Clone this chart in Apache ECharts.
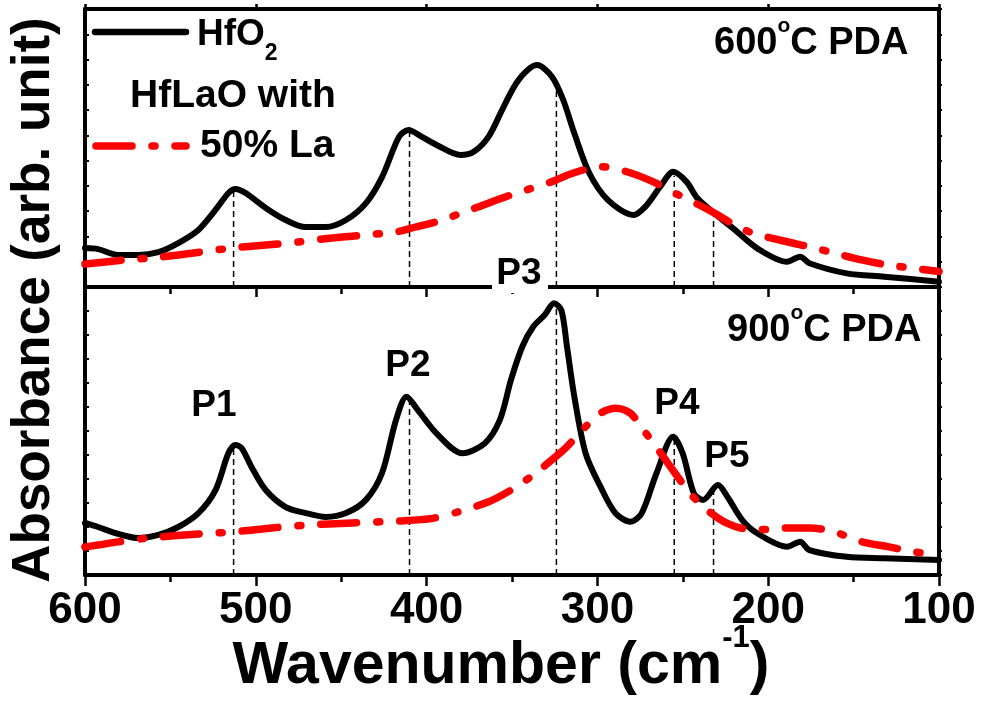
<!DOCTYPE html>
<html>
<head>
<meta charset="utf-8">
<script src="https://cdn.jsdelivr.net/npm/echarts@6/dist/echarts.min.js"></script>
<style>
html,body{margin:0;padding:0;background:#fff;}
#chart{width:981px;height:705px;}
</style>
</head>
<body>
<div id="chart"></div>
<script>
// ---------------- DATA ----------------
const xTickValues = [600, 500, 400, 300, 200, 100];

// 600 C PDA, HfO2 (black solid)
const hfo2_600 = [[600,15.4],[592.4,15.0],[580.6,12.7],[568.9,12.7],[557.1,13.8],[545.4,17.4],[533.6,22.6],[523.6,30.5],[516.0,37.2],[511.9,38.8],[506.0,37.2],[494.2,31.3],[482.5,26.5],[470.7,23.7],[459.0,23.7],[447.2,26.5],[435.5,33.2],[426.1,43.5],[416.1,59.5],[410.6,62.1],[403.0,59.5],[394.2,56.2],[380.1,52.2],[372.4,53.5],[363.7,59.5],[354.9,71.3],[346.2,81.9],[335.3,87.8],[326.6,83.2],[320.0,74.0],[313.5,60.8],[304.7,45.0],[293.8,34.4],[278.9,28.5],[271.9,31.8],[263.2,39.7],[255.6,45.6],[247.9,41.7],[241.4,35.1],[232.6,29.8],[219.5,22.6],[206.4,15.3],[189.0,10.0],[181.3,12.0],[175.9,9.4],[154.0,5.4],[132.1,4.1],[100,2.1]];

// 600 C PDA, HfLaO with 50% La (red dash-dot)
const hflao_600 = [[600,9.1],[594.1,9.5],[576.5,10.7],[561.2,11.5],[545.4,12.7],[514.2,15.4],[494.2,16.6],[474.9,17.8],[455.5,19.4],[435.5,20.6],[417.9,21.8],[409.5,23.2],[394.2,25.8],[374.6,30.5],[350.6,36.4],[326.6,41.7],[314.5,45.0],[298.2,47.6],[282.8,45.6],[267.6,41.7],[254.5,37.1],[234.8,30.5],[219.5,24.5],[208.6,21.2],[189.0,17.9],[175.9,15.9],[160.6,13.3],[145.2,10.7],[130.0,8.7],[114.7,7.4],[100,6.1]];

// 900 C PDA, HfO2 (black solid)
const hfo2_900 = [[600,21.7],[592.4,20.0],[580.6,17.1],[568.9,15.4],[557.1,16.7],[545.4,20.0],[533.6,25.8],[523.6,35.4],[516.0,50.8],[511.9,54.2],[508.3,52.9],[502.5,45.0],[494.2,35.4],[482.5,28.3],[470.7,25.8],[459.0,24.2],[447.2,25.8],[435.5,31.3],[426.1,42.5],[417.9,64.6],[411.7,74.3],[405.2,68.8],[394.2,59.0],[379.0,50.7],[365.9,54.9],[357.1,64.6],[350.6,81.3],[344.0,95.1],[337.5,103.5],[330.9,108.3],[325.4,113.2],[321.1,110.4],[317.8,95.1],[313.5,74.3],[306.9,50.7],[298.2,36.8],[289.4,25.7],[280.7,22.2],[274.1,25.7],[265.4,42.4],[255.6,57.6],[250.1,50.7],[243.5,34.0],[238.1,31.3],[229.4,37.5],[223.9,32.6],[215.2,22.9],[206.4,17.4],[189.0,11.8],[181.3,13.9],[175.9,10.4],[154.0,7.6],[132.1,7.0],[100,6.3]];

// 900 C PDA, HfLaO with 50% La (red dash-dot)
const hflao_900 = [[600,11.7],[592.4,12.5],[580.6,13.8],[563.0,15.4],[533.6,17.1],[514.2,17.9],[490.7,19.6],[470.7,20.8],[443.7,21.7],[416.1,22.5],[396.4,23.6],[381.1,26.4],[363.7,30.5],[350.6,35.4],[337.5,41.7],[324.4,49.3],[317.8,53.5],[306.9,61.8],[298.2,67.4],[289.4,69.5],[280.7,67.4],[273.0,60.4],[264.3,52.1],[254.5,42.4],[245.7,34.0],[237.0,27.8],[223.9,21.5],[210.8,19.0],[197.7,19.0],[189.0,19.6],[175.9,19.6],[162.7,18.3],[145.3,13.9],[130.0,11.8],[114.7,9.7],[100,8.3]];

// Peak markers (dashed drop lines)
const peakNames = ['P1', 'P2', 'P3', 'P4', 'P5'];
const peakPos = [513, 410, 324, 255, 232];
const dropTop600 = [38.5, 62, 78, 44, 29];
const dropTop900 = [54, 73, 112, 57, 36];

// ---------------- CHART ----------------
const FONT = '"Liberation Sans", Arial, sans-serif';
const BLACK = '#000000';
const RED = '#ff0000';
const chart = echarts.init(document.getElementById('chart'), null, {renderer: 'canvas'});

function xAxisDef(grid, pos, tickLen, minorLen, showLabel) {
  return {
    type: 'value', gridIndex: grid, position: pos, inverse: true,
    min: xTickValues[xTickValues.length - 1], max: xTickValues[0], interval: 100,
    axisLine: {show: true, onZero: false, lineStyle: {color: BLACK, width: 4}},
    axisTick: {show: tickLen > 0, inside: false, length: tickLen, lineStyle: {color: BLACK, width: 2.5}},
    minorTick: {show: minorLen > 0, splitNumber: 2, length: minorLen, lineStyle: {color: BLACK, width: 2.5}},
    splitLine: {show: false}, minorSplitLine: {show: false},
    axisLabel: {show: showLabel, color: BLACK, fontSize: 44, fontWeight: 'bold', fontFamily: FONT, margin: 14}
  };
}
function yAxisDef(grid, pos, max, inside, len) {
  return {
    type: 'value', gridIndex: grid, position: pos, min: 0, max: max, interval: 10,
    axisLine: {show: true, onZero: false, lineStyle: {color: BLACK, width: 4}},
    axisTick: {show: true, inside: inside, length: len, lineStyle: {color: BLACK, width: 2}},
    splitLine: {show: false},
    axisLabel: {show: false}
  };
}

const series = [];
function curve(data, xi, yi, color, width, dash, z) {
  return {
    type: 'line', xAxisIndex: xi, yAxisIndex: yi, data: data,
    showSymbol: false, symbol: 'none', smooth: 0.3, silent: true, z: z,
    lineStyle: {color: color, width: width, type: dash || 'solid', cap: 'round', join: 'round'}
  };
}
peakPos.forEach((p, i) => {
  series.push({type: 'line', xAxisIndex: 0, yAxisIndex: 0, data: [[p, 0], [p, dropTop600[i]]],
    showSymbol: false, symbol: 'none', silent: true, z: 1,
    lineStyle: {color: BLACK, width: 1.5, type: [6, 4]}});
  series.push({type: 'line', xAxisIndex: 2, yAxisIndex: 2, data: [[p, 0], [p, dropTop900[i]]],
    showSymbol: false, symbol: 'none', silent: true, z: 1,
    lineStyle: {color: BLACK, width: 1.5, type: [6, 4]}});
});
series.push(curve(hfo2_600, 0, 0, BLACK, 6, 'solid', 3));
series.push(curve(hflao_600, 0, 0, RED, 7.5, [36, 20, 3, 20], 4));
series.push(curve(hfo2_900, 2, 2, BLACK, 6, 'solid', 3));
series.push(curve(hflao_900, 2, 2, RED, 7.5, [36, 20, 3, 20], 4));

function txt(x, y, text, size, align, extra) {
  return Object.assign({
    type: 'text', x: x, y: y, z: 100, silent: true,
    style: {text: text, font: 'bold ' + size + 'px ' + FONT, fill: BLACK, align: align || 'center', verticalAlign: 'middle'}
  }, extra || {});
}
function richTxt(x, y, text, rich, align) {
  return {type: 'text', x: x, y: y, z: 100, silent: true,
    style: {text: text, rich: rich, fill: BLACK, align: align || 'left', verticalAlign: 'middle', font: 'bold 38px ' + FONT}};
}
const degRich = {
  a: {font: 'bold 38px ' + FONT, fill: BLACK, lineHeight: 56},
  s: {font: 'bold 21px ' + FONT, fill: BLACK, verticalAlign: 'top'}
};

const graphic = [
  // y axis title
  {type: 'text', x: 34, y: 300, rotation: Math.PI / 2, z: 100, silent: true,
   style: {text: 'Absorbance (arb. unit)', font: 'bold 53px ' + FONT, fill: BLACK, align: 'center', verticalAlign: 'middle'}},
  // x axis title
  richTxt(501, 667, '{a|Wavenumber (cm}{s|-1}{a|)}', {
    a: {font: 'bold 59px ' + FONT, fill: BLACK, lineHeight: 88},
    s: {font: 'bold 31px ' + FONT, fill: BLACK, verticalAlign: 'top'}
  }, 'center'),
  // legend
  {type: 'line', z: 100, silent: true, shape: {x1: 95, y1: 32, x2: 186, y2: 32},
   style: {stroke: BLACK, lineWidth: 6.5, lineCap: 'round'}},
  richTxt(197, 34.5, '{a|HfO}{s|2}', {
    a: {font: 'bold 37px ' + FONT, fill: BLACK, lineHeight: 62},
    s: {font: 'bold 23px ' + FONT, fill: BLACK, verticalAlign: 'bottom'}
  }),
  txt(130, 96, 'HfLaO with', 39, 'left'),
  {type: 'line', z: 100, silent: true, shape: {x1: 96, y1: 146, x2: 186, y2: 146},
   style: {stroke: RED, lineWidth: 7.5, lineCap: 'round', lineDash: [36, 20, 3, 20]}},
  txt(200, 146, '50% La', 39, 'left'),
  // panel titles
  richTxt(714, 44, '{a|600}{s|o}{a|C PDA}', degRich),
  richTxt(727, 331, '{a|900}{s|o}{a|C PDA}', degRich),
  // peak labels
  txt(214, 406, peakNames[0], 37),
  txt(408, 366, peakNames[1], 37),
  {type: 'rect', z: 99, silent: true, shape: {x: 492, y: 281, width: 56, height: 12}, style: {fill: '#ffffff'}},
  txt(519, 273.5, peakNames[2], 37),
  txt(677, 404, peakNames[3], 37),
  txt(727, 457, peakNames[4], 37)
];

chart.setOption({
  animation: false,
  backgroundColor: '#ffffff',
  grid: [
    {left: 85, right: 42, top: 9, height: 278, outerBoundsMode: 'none', containLabel: false},
    {left: 85, right: 42, top: 287, height: 288, outerBoundsMode: 'none', containLabel: false}
  ],
  xAxis: [
    xAxisDef(0, 'bottom', 10, 7, false),
    xAxisDef(0, 'top', 5, 0, false),
    xAxisDef(1, 'bottom', 11, 7, true),
    xAxisDef(1, 'top', 0, 0, false)
  ],
  yAxis: [
    yAxisDef(0, 'left', 110, true, 4),
    yAxisDef(0, 'right', 110, false, 3),
    yAxisDef(1, 'left', 120, true, 4),
    yAxisDef(1, 'right', 120, false, 3)
  ],
  series: series,
  graphic: graphic
});
</script>
</body>
</html>
